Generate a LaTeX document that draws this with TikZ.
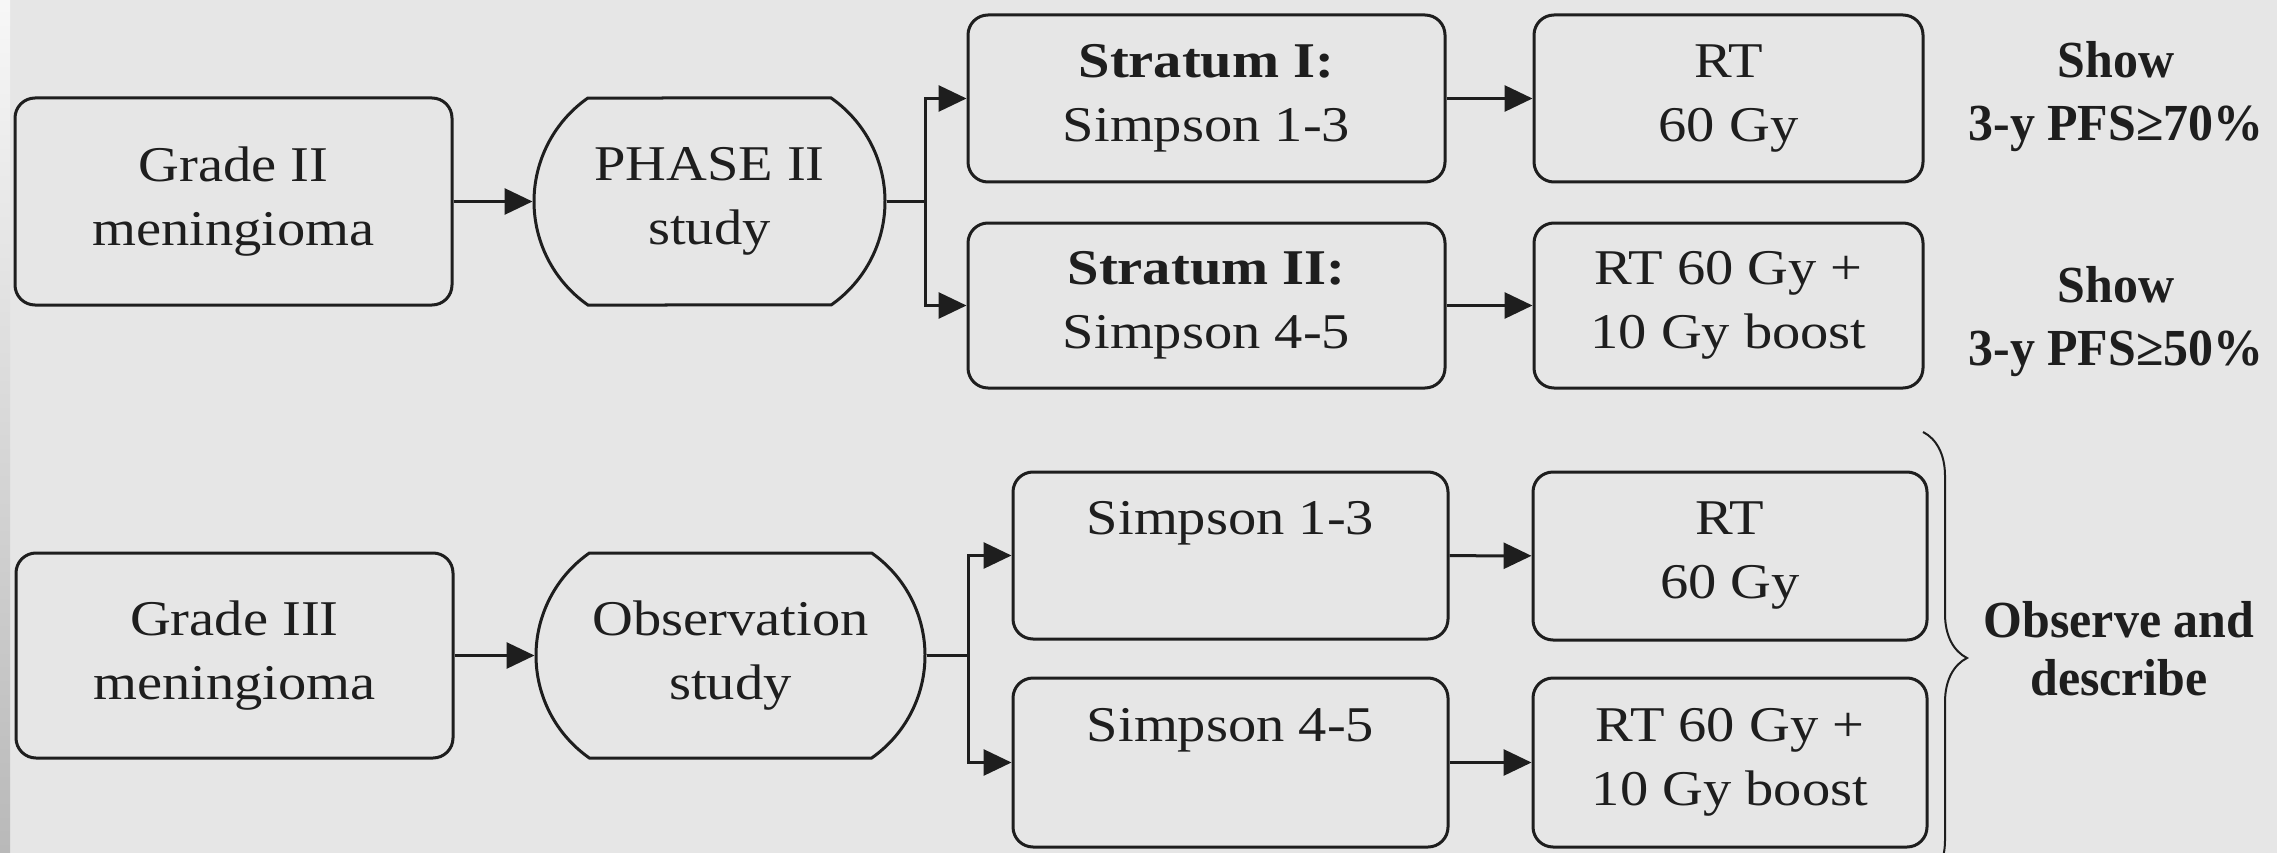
\documentclass[tikz,border=0pt]{standalone}
\usepackage{fontspec}
\setmainfont{Liberation Serif}[FakeStretch=1.13]
\newfontfamily\notefont{Liberation Serif}[FakeStretch=0.96]
\usetikzlibrary{arrows.meta,shapes.misc,decorations.pathreplacing}
\definecolor{bg}{HTML}{E6E6E6}
\definecolor{ink}{HTML}{1E1E1E}
\begin{document}
\begin{tikzpicture}[x=1pt,y=-1pt,
  font=\fontsize{50}{64}\selectfont,
  box/.style={draw=ink, line width=3pt, rounded corners=20pt, align=center,
    inner sep=0pt, text=ink},
  pill/.style={draw=ink, line width=3pt, rounded rectangle,
    rounded rectangle arc length=110, align=center, inner sep=0pt, text=ink},
  arr/.style={draw=ink, line width=3pt, -{Triangle[length=28pt,width=26pt]}},
  link/.style={draw=ink, line width=3pt},
  note/.style={align=center, text=ink,
    font=\notefont\bfseries\fontsize{52}{63}\selectfont},
  bracelabel/.style={align=center, text=ink,
    font=\notefont\bfseries\fontsize{52}{58}\selectfont}
]
% canvas
\fill[bg] (0,0) rectangle (2277,853);
\shade[top color=gray!6, bottom color=gray!55] (0,0) rectangle (10,853);
\clip (0,0) rectangle (2277,853);

% Grade II branch
\node[box, minimum width=437pt, minimum height=207pt] (g2) at (233.5,201.5)
  {Grade II\\meningioma};
\node[pill, minimum width=351pt, minimum height=207pt] (ph) at (709.5,201.5)
  {PHASE II\\study};
\node[box, minimum width=477pt, minimum height=167pt] (s1) at (1206.5,98.5)
  {\textbf{Stratum I:}\\Simpson 1-3};
\node[box, minimum width=477pt, minimum height=165pt] (s2) at (1206.5,305.5)
  {\textbf{Stratum II:}\\Simpson 4-5};
\node[box, minimum width=389pt, minimum height=167pt] (rt1) at (1728.5,98.5)
  {RT\\60 Gy};
\node[box, minimum width=389pt, minimum height=165pt] (rt2) at (1728.5,305.5)
  {RT 60 Gy +\\10 Gy boost};
\node[note] (goal1) at (2116,97) {Show\\3-y PFS≥70\%};
\node[note] (goal2) at (2116,322) {Show\\3-y PFS≥50\%};

\coordinate (b1) at (925,201.5);
\draw[arr] (g2) -- (ph);
\draw[link] (ph) -- (b1);
\draw[arr] (b1) |- (s1);
\draw[arr] (b1) |- (s2);
\draw[arr] (s1) -- (rt1);
\draw[arr] (s2) -- (rt2);

% Grade III branch
\node[box, minimum width=437pt, minimum height=205pt] (g3) at (234.5,655.5)
  {Grade III\\meningioma};
\node[pill, minimum width=389pt, minimum height=205pt] (ob) at (730.5,655.5)
  {Observation\\study};
\node[box, minimum width=435pt, minimum height=167pt] (p1) at (1230.5,555.5)
  {Simpson 1-3\\\phantom{Gy}};
\node[box, minimum width=435pt, minimum height=169pt] (p2) at (1230.5,762.5)
  {Simpson 4-5\\\phantom{Gy}};
\node[box, minimum width=394pt, minimum height=168pt] (rt3) at (1730,556)
  {RT\\60 Gy};
\node[box, minimum width=394pt, minimum height=169pt] (rt4) at (1730,762.5)
  {RT 60 Gy +\\10 Gy boost};

\coordinate (b2) at (968,655.5);
\draw[arr] (g3) -- (ob);
\draw[link] (ob) -- (b2);
\draw[arr] (b2) |- (p1);
\draw[arr] (b2) |- (p2);
\draw[arr] (p1) -- (rt3);
\draw[arr] (p2) -- (rt4);

% brace grouping the observation arms
\coordinate (bt) at (1923,432);
\coordinate (bb) at (1923,884);
\draw[ink, line width=2pt, decorate,
  decoration={brace, amplitude=44pt, aspect=0.5}] (bt) -- (bb);
\node[bracelabel] (goal3) at (2119,649) {Observe and\\describe};
\end{tikzpicture}
\end{document}
